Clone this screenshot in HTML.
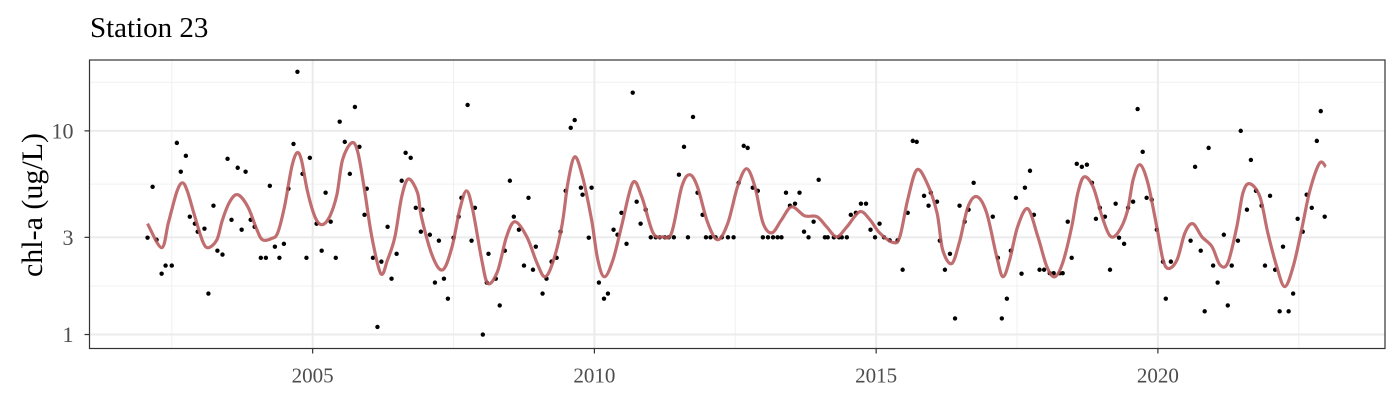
<!DOCTYPE html>
<html><head><meta charset="utf-8"><style>
html,body{margin:0;padding:0;background:#fff;}
svg{display:block;font-family:"Liberation Serif",serif;}
</style></head><body>
<svg id="chart" width="1400" height="400" viewBox="0 0 1400 400" xmlns="http://www.w3.org/2000/svg">
<text x="90" y="37" font-size="29" fill="#000">Station 23</text>
<text transform="translate(42,205) rotate(-90)" text-anchor="middle" font-size="30" fill="#000">chl-a (ug/L)</text>
<g id="grid"></g>
<g id="marks"></g>
<g id="axes"></g>
</svg>
<script>
const pointYears=[2002.07,2002.16,2002.23,2002.32,2002.39,2002.50,2002.59,2002.66,2002.75,2002.82,2002.91,2002.96,2003.08,2003.15,2003.24,2003.31,2003.40,2003.49,2003.56,2003.67,2003.74,2003.81,2003.90,2003.97,2004.08,2004.17,2004.24,2004.33,2004.41,2004.49,2004.57,2004.66,2004.73,2004.82,2004.89,2004.95,2005.07,2005.16,2005.23,2005.32,2005.41,2005.48,2005.57,2005.66,2005.75,2005.83,2005.92,2005.96,2006.07,2006.15,2006.22,2006.33,2006.40,2006.49,2006.58,2006.65,2006.74,2006.83,2006.92,2006.95,2007.08,2007.17,2007.24,2007.33,2007.40,2007.50,2007.59,2007.64,2007.75,2007.82,2007.88,2008.02,2008.09,2008.12,2008.25,2008.32,2008.41,2008.50,2008.57,2008.66,2008.75,2008.83,2008.91,2008.96,2009.08,2009.15,2009.24,2009.33,2009.40,2009.49,2009.58,2009.65,2009.76,2009.79,2009.90,2009.95,2010.08,2010.17,2010.24,2010.34,2010.41,2010.48,2010.57,2010.68,2010.75,2010.82,2010.91,2011.00,2011.09,2011.16,2011.25,2011.32,2011.41,2011.50,2011.59,2011.66,2011.75,2011.83,2011.92,2011.98,2012.06,2012.15,2012.26,2012.37,2012.47,2012.56,2012.65,2012.72,2012.81,2012.90,2012.99,2013.08,2013.17,2013.25,2013.32,2013.40,2013.47,2013.56,2013.64,2013.72,2013.80,2013.89,2013.98,2014.09,2014.14,2014.25,2014.34,2014.39,2014.48,2014.55,2014.64,2014.73,2014.82,2014.90,2014.98,2015.06,2015.14,2015.24,2015.38,2015.47,2015.56,2015.65,2015.72,2015.85,2015.93,2015.97,2016.08,2016.13,2016.22,2016.31,2016.40,2016.48,2016.57,2016.64,2016.73,2017.07,2017.16,2017.23,2017.32,2017.39,2017.48,2017.58,2017.64,2017.73,2017.80,2017.90,2017.98,2018.08,2018.15,2018.26,2018.31,2018.40,2018.47,2018.56,2018.65,2018.74,2018.83,2018.90,2018.97,2019.06,2019.15,2019.25,2019.31,2019.40,2019.47,2019.56,2019.64,2019.73,2019.80,2019.89,2019.98,2020.09,2020.14,2020.23,2020.58,2020.66,2020.76,2020.83,2020.90,2020.98,2021.06,2021.17,2021.24,2021.31,2021.42,2021.47,2021.58,2021.65,2021.74,2021.84,2021.90,2021.99,2022.08,2022.16,2022.22,2022.32,2022.40,2022.48,2022.57,2022.64,2022.73,2022.82,2022.89,2022.96];
const pointValues=[2.99,5.31,2.92,1.99,2.18,2.18,8.73,6.30,7.54,3.79,3.50,3.20,3.31,1.59,4.29,2.58,2.47,7.29,3.66,6.59,3.27,6.30,3.66,3.38,2.38,2.38,5.37,2.70,2.38,2.79,5.20,8.63,19.5,6.15,2.38,7.37,3.50,2.58,4.97,3.58,2.38,11.1,8.83,6.15,13.1,8.35,3.87,5.20,2.38,1.09,2.28,3.38,1.88,2.49,5.69,7.80,7.37,4.19,3.20,4.10,3.09,1.80,2.89,1.88,1.50,2.99,3.79,4.69,13.4,2.89,4.19,1.00,1.80,2.49,1.88,1.39,2.58,5.69,3.79,3.27,2.18,4.69,2.08,2.70,1.59,1.88,2.28,2.38,3.20,5.08,10.35,11.3,5.26,4.86,2.99,5.26,1.80,1.50,1.59,3.27,3.09,3.96,2.79,15.4,4.49,3.50,4.10,3.0,3.0,3.0,3.0,3.0,3.0,6.09,8.35,3.0,11.7,4.97,3.87,3.0,3.0,3.0,3.0,3.0,3.0,5.56,8.44,8.25,5.26,5.08,3.0,3.0,3.0,3.0,3.0,4.97,4.29,4.39,4.97,3.20,3.0,3.58,5.75,3.0,3.0,3.0,3.0,3.0,3.0,3.87,3.96,4.39,4.39,3.27,3.0,3.50,3.0,2.9,2.9,2.08,3.96,8.93,8.83,4.80,4.29,4.97,4.49,2.89,2.08,2.49,1.20,4.29,3.58,4.10,5.56,3.79,2.38,1.20,1.50,2.58,4.69,1.99,5.26,6.37,3.87,2.08,2.08,2.0,2.0,2.0,2.0,3.58,2.38,6.89,6.66,6.82,5.56,3.70,4.19,3.79,2.08,4.39,2.99,2.79,4.19,4.49,12.8,7.89,4.69,4.59,3.27,2.28,1.50,2.28,2.89,6.66,2.58,1.30,8.25,2.18,1.80,3.09,1.39,2.18,2.89,10.0,4.10,7.20,5.08,4.29,2.18,4.80,2.08,1.30,2.70,1.30,1.59,3.70,3.20,4.86,4.19,8.93,12.5,3.79];
const smoothYears=[2002.07,2002.32,2002.44,2002.59,2002.69,2002.78,2002.91,2003.05,2003.15,2003.30,2003.40,2003.53,2003.67,2003.85,2004.01,2004.11,2004.27,2004.38,2004.50,2004.63,2004.72,2004.80,2004.91,2005.04,2005.16,2005.30,2005.43,2005.53,2005.69,2005.80,2005.92,2006.05,2006.21,2006.33,2006.46,2006.58,2006.70,2006.86,2006.93,2007.13,2007.31,2007.47,2007.61,2007.73,2007.84,2008.00,2008.11,2008.28,2008.44,2008.59,2008.80,2008.98,2009.12,2009.26,2009.42,2009.53,2009.65,2009.79,2009.95,2010.06,2010.18,2010.33,2010.48,2010.68,2010.84,2011.04,2011.21,2011.37,2011.55,2011.69,2011.83,2012.01,2012.19,2012.37,2012.54,2012.70,2012.85,2012.99,2013.15,2013.32,2013.50,2013.73,2013.95,2014.12,2014.30,2014.48,2014.71,2014.89,2015.06,2015.30,2015.42,2015.56,2015.72,2015.90,2016.08,2016.18,2016.34,2016.48,2016.63,2016.79,2016.96,2017.14,2017.25,2017.37,2017.51,2017.69,2017.87,2018.03,2018.17,2018.31,2018.47,2018.58,2018.69,2018.85,2019.01,2019.15,2019.29,2019.45,2019.56,2019.68,2019.82,2019.98,2020.09,2020.19,2020.34,2020.48,2020.62,2020.78,2020.96,2021.10,2021.24,2021.40,2021.51,2021.63,2021.81,2021.95,2022.11,2022.25,2022.40,2022.56,2022.70,2022.87,2022.98];
const smoothValues=[3.50,2.67,3.54,5.02,5.56,5.02,3.79,2.86,2.67,2.92,3.66,4.49,4.86,4.24,3.27,2.92,2.96,3.16,4.24,6.66,7.80,7.20,5.02,3.79,3.46,3.79,4.86,7.20,8.73,7.89,5.14,3.02,1.99,2.33,3.02,4.75,5.81,4.97,3.79,2.41,2.08,2.67,4.10,5.08,4.10,2.33,1.78,2.04,3.02,3.58,3.02,2.25,1.92,2.25,3.38,5.56,7.46,5.94,3.66,2.33,1.92,2.33,3.38,5.56,4.75,3.16,3.02,3.16,5.31,6.09,5.31,3.54,2.92,3.54,5.31,6.52,5.31,3.54,3.16,3.66,4.24,3.83,3.79,3.38,3.02,3.38,4.01,3.66,3.16,2.83,3.02,4.59,6.43,5.56,3.96,2.61,2.23,2.86,4.24,4.75,3.96,2.41,1.92,2.33,3.38,4.15,3.02,2.15,1.92,2.25,3.38,4.97,5.94,5.31,3.79,3.05,3.16,3.96,5.75,6.82,5.56,3.38,2.33,2.11,2.33,3.16,3.50,3.02,2.70,2.20,2.25,3.38,4.97,5.50,4.75,3.16,2.15,1.72,2.15,3.38,5.14,6.95,6.66];
const yTickValues=[1,3,10];
const yTickLabels=["1","3","10"];
const yMinorValues=[Math.sqrt(3),Math.sqrt(30),Math.sqrt(300)];
const xTickValues=[2005,2010,2015,2020];
const xTickLabels=["2005","2010","2015","2020"];
const xMinorValues=[2002.5,2007.5,2012.5,2017.5,2022.5];

const P={l:89.5,r:1385,t:60,b:348.5};
const X0=2001.04,X1=2024.03,L0=-0.0686,L1=1.348;
function xs(v){return P.l+(v-X0)/(X1-X0)*(P.r-P.l);}
function ys(v){return P.b-(Math.log10(v)-L0)/(L1-L0)*(P.b-P.t);}
const NS="http://www.w3.org/2000/svg";
function mk(t,a,parent){const e=document.createElementNS(NS,t);for(const k in a)e.setAttribute(k,a[k]);parent.appendChild(e);return e;}
const grid=document.getElementById('grid'),marks=document.getElementById('marks'),axes=document.getElementById('axes');
mk('rect',{x:P.l,y:P.t,width:P.r-P.l,height:P.b-P.t,fill:'#fff'},grid);
yMinorValues.forEach(v=>{const e=mk('line',{x1:P.l,x2:P.r,y1:ys(v),y2:ys(v),stroke:'#f0f0f0','stroke-width':1},grid);

});
xMinorValues.forEach(v=>{const e=mk('line',{x1:xs(v),x2:xs(v),y1:P.t,y2:P.b,stroke:'#f0f0f0','stroke-width':1},grid);

});
yTickValues.forEach((v,i)=>{const y=ys(v);
const g=mk('line',{x1:P.l,x2:P.r,y1:y,y2:y,stroke:'#ebebeb','stroke-width':2},grid);


const tk=mk('line',{x1:P.l-5,x2:P.l,y1:y,y2:y,stroke:'#333','stroke-width':1.2},axes);


const t=mk('text',{x:P.l-16,y:y+7.5,'text-anchor':'end','font-size':22,fill:'#4d4d4d'},axes);t.textContent=yTickLabels[i];

});
xTickValues.forEach((v,i)=>{const x=xs(v);
const g=mk('line',{x1:x,x2:x,y1:P.t,y2:P.b,stroke:'#ebebeb','stroke-width':2},grid);


const tk=mk('line',{x1:x,x2:x,y1:P.b,y2:P.b+5,stroke:'#333','stroke-width':1.2},axes);


const t=mk('text',{x:x,y:P.b+34,'text-anchor':'middle','font-size':21,fill:'#4d4d4d'},axes);t.textContent=xTickLabels[i];

});
pointYears.forEach((yr,i)=>{const c=mk('circle',{cx:xs(yr),cy:ys(pointValues[i]),r:2.2,fill:'#000'},marks);

});
const pts=smoothYears.map((yr,i)=>[xs(yr),ys(smoothValues[i])]);
let d='M'+pts[0][0].toFixed(1)+','+pts[0][1].toFixed(1);
for(let i=0;i<pts.length-1;i++){const p0=pts[Math.max(0,i-1)],p1=pts[i],p2=pts[i+1],p3=pts[Math.min(pts.length-1,i+2)];
const c1=[p1[0]+(p2[0]-p0[0])/6,p1[1]+(p2[1]-p0[1])/6],c2=[p2[0]-(p3[0]-p1[0])/6,p2[1]-(p3[1]-p1[1])/6];
d+=' C'+c1.map(n=>n.toFixed(1)).join(',')+' '+c2.map(n=>n.toFixed(1)).join(',')+' '+p2.map(n=>n.toFixed(1)).join(',');}
const sl=mk('path',{d:d,fill:'none',stroke:'#b85a5c','stroke-opacity':0.88,'stroke-width':3.2,'stroke-linejoin':'round'},marks);


const border=mk('rect',{x:P.l,y:P.t,width:P.r-P.l,height:P.b-P.t,fill:'none',stroke:'#333','stroke-width':1.2},axes);


</script>
</body></html>
